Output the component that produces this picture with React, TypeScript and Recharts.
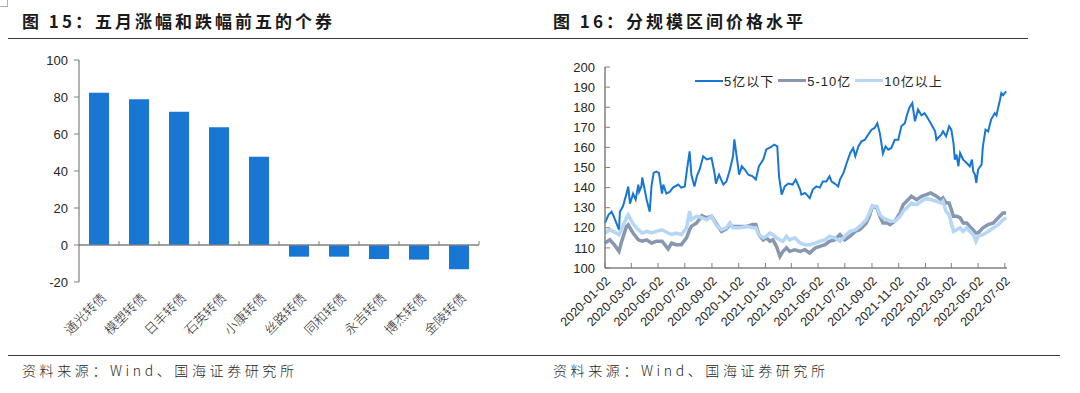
import React from 'react';
import { BarChart, Bar, XAxis, YAxis, ReferenceLine, LineChart, Line, Legend } from 'recharts';

// ---------- Figure 15 data ----------
const bondNames = ['通光转债', '模塑转债', '日丰转债', '石英转债', '小康转债', '丝路转债', '同和转债', '永吉转债', '博杰转债', '金陵转债'];
const bondChanges = [82.3, 78.8, 72.0, 63.6, 47.7, -6.3, -6.3, -7.6, -7.9, -13.1];
const barYTicks = [-20, 0, 20, 40, 60, 80, 100];

// ---------- Figure 16 data ----------
const smallDates = [
  '2020-01-02', '2020-01-10', '2020-01-17', '2020-01-22', '2020-02-03', '2020-02-05', '2020-02-12', '2020-02-20', '2020-02-24', '2020-02-28',
  '2020-03-06', '2020-03-12', '2020-03-18', '2020-03-20', '2020-03-25', '2020-03-27', '2020-04-06', '2020-04-13', '2020-04-17', '2020-04-22',
  '2020-04-28', '2020-05-04', '2020-05-11', '2020-05-14', '2020-05-21', '2020-05-29', '2020-06-05', '2020-06-17', '2020-06-24', '2020-07-02',
  '2020-07-07', '2020-07-13', '2020-07-17', '2020-07-24', '2020-07-30', '2020-08-05', '2020-08-13', '2020-08-21', '2020-09-01', '2020-09-08',
  '2020-09-11', '2020-09-18', '2020-09-28', '2020-10-05', '2020-10-13', '2020-10-20', '2020-10-23', '2020-10-28', '2020-11-03', '2020-11-09',
  '2020-11-16', '2020-11-24', '2020-12-04', '2020-12-11', '2020-12-18', '2020-12-28', '2021-01-04', '2021-01-15', '2021-01-22', '2021-01-29',
  '2021-02-02', '2021-02-08', '2021-02-15', '2021-02-23', '2021-03-05', '2021-03-12', '2021-03-22', '2021-03-25', '2021-04-02', '2021-04-06',
  '2021-04-13', '2021-04-20', '2021-04-28', '2021-05-06', '2021-05-13', '2021-05-21', '2021-05-28', '2021-06-02', '2021-06-09', '2021-06-17',
  '2021-06-21', '2021-06-29', '2021-07-06', '2021-07-14', '2021-07-21', '2021-07-26', '2021-08-02', '2021-08-09', '2021-08-17', '2021-08-24',
  '2021-09-01', '2021-09-08', '2021-09-14', '2021-09-20', '2021-09-27', '2021-10-03', '2021-10-09', '2021-10-16', '2021-10-24', '2021-11-01',
  '2021-11-08', '2021-11-16', '2021-11-20', '2021-11-26', '2021-12-03', '2021-12-09', '2021-12-16', '2021-12-24', '2021-12-31', '2022-01-07',
  '2022-01-14', '2022-01-24', '2022-01-27', '2022-02-07', '2022-02-11', '2022-02-18', '2022-02-25', '2022-03-02', '2022-03-07', '2022-03-10',
  '2022-03-14', '2022-03-18', '2022-03-22', '2022-03-29', '2022-04-06', '2022-04-13', '2022-04-18', '2022-04-21', '2022-04-25', '2022-04-28',
  '2022-05-02', '2022-05-10', '2022-05-13', '2022-05-19', '2022-05-25', '2022-06-01', '2022-06-09', '2022-06-13', '2022-06-21', '2022-06-24',
  '2022-06-28', '2022-07-05',
];
const smallValues = [
  122.5, 126.5, 128, 125.7, 119, 128, 130.7, 137, 140.5, 132,
  137, 134, 141.5, 138, 140.6, 145, 134, 128, 140.6, 147.3,
  148, 147.3, 137, 141.5, 137, 138, 140, 141.5, 140, 140.6,
  149, 158, 146.4, 140.6, 146, 149, 155.6, 154, 154.7, 147,
  142, 146.4, 141.5, 143, 149, 155.6, 164, 156, 146.4, 150.6,
  149, 146.4, 145.6, 144, 150.6, 154, 159, 160.2, 161.4, 160.5,
  145.6, 136.5, 140.6, 142, 141.5, 144, 139, 136.5, 137.3, 136.5,
  134.8, 139, 140.6, 140, 143, 143, 145.6, 143, 142, 140.6,
  144, 147.3, 152, 157, 159.7, 155.6, 160.5, 163, 163.8, 166.3,
  168.8, 169.7, 172, 167, 157, 160.5, 158.9, 159.7, 163.8, 163.8,
  170.5, 172, 175.5, 179.6, 182, 173, 178.8, 176, 177, 174.6,
  172, 168, 163.8, 166.3, 168, 165.5, 170.5, 168.8, 162, 153.9,
  156.4, 150.6, 157.2, 153.9, 152.2, 150.6, 153.9, 148, 146.4, 142.3,
  149, 151.4, 160.5, 168.8, 168, 174, 177, 176, 183.7, 187,
  186, 187.9,
];

const sizeDates = [
  '2020-01-02', '2020-01-13', '2020-01-23', '2020-02-03', '2020-02-10', '2020-02-20', '2020-02-24', '2020-03-06', '2020-03-18', '2020-03-27',
  '2020-04-06', '2020-04-17', '2020-04-28', '2020-05-11', '2020-05-25', '2020-06-02', '2020-06-12', '2020-06-24', '2020-07-06', '2020-07-13',
  '2020-07-17', '2020-07-29', '2020-08-10', '2020-08-21', '2020-09-01', '2020-09-11', '2020-09-24', '2020-10-05', '2020-10-13', '2020-10-20',
  '2020-11-05', '2020-11-20', '2020-12-04', '2020-12-11', '2020-12-18', '2020-12-28', '2021-01-04', '2021-01-12', '2021-01-19', '2021-01-27',
  '2021-02-04', '2021-02-11', '2021-02-19', '2021-02-26', '2021-03-10', '2021-03-22', '2021-04-02', '2021-04-13', '2021-04-26', '2021-05-06',
  '2021-05-18', '2021-05-28', '2021-06-09', '2021-06-21', '2021-07-02', '2021-07-14', '2021-07-26', '2021-08-05', '2021-08-13', '2021-08-20',
  '2021-08-27', '2021-09-03', '2021-09-13', '2021-09-20', '2021-09-27', '2021-10-08', '2021-10-13', '2021-10-24', '2021-11-05', '2021-11-12',
  '2021-11-20', '2021-12-01', '2021-12-13', '2021-12-24', '2022-01-04', '2022-01-14', '2022-01-27', '2022-02-07', '2022-02-11', '2022-02-18',
  '2022-02-25', '2022-03-07', '2022-03-14', '2022-03-22', '2022-03-29', '2022-04-06', '2022-04-13', '2022-04-21', '2022-04-27', '2022-05-02',
  '2022-05-13', '2022-05-25', '2022-06-06', '2022-06-17', '2022-06-28', '2022-07-05',
];
const midValues = [
  112.4, 114, 111.6, 108.3, 114, 120.7, 121.5, 117.4, 114, 113.3,
  114, 112.4, 113.3, 113.3, 109.5, 112.4, 111.6, 111.6, 115, 119,
  120.7, 122.4, 126, 125, 125.7, 122.4, 118.2, 119.5, 121.6, 120.7,
  120.7, 120.7, 121.6, 121.6, 116.6, 114, 115, 113.3, 114, 110.8,
  105.8, 108.3, 110, 108.3, 109.1, 108.3, 109.1, 107.5, 110, 110.8,
  111.6, 113.3, 114, 116.6, 114, 115.8, 118.2, 119, 120.7, 122.4,
  125.7, 130.7, 130, 125.7, 122.4, 122.4, 121.6, 123.2, 127.4, 131.5,
  133.2, 135.7, 134, 135.7, 136.5, 137.3, 135.7, 134, 134.8, 132.3,
  132.3, 125.7, 125.7, 125, 122.4, 122.4, 120.7, 119, 117.4, 117.4,
  120, 121.6, 122.4, 125, 127.4, 127.4,
];
const largeValues = [
  117.4, 119, 118, 116.6, 120, 125, 126.5, 122, 119, 117.4,
  118.2, 117.4, 118.2, 119, 117.4, 116.6, 117.4, 116.6, 120, 128.2,
  124, 125.7, 125, 124, 125.7, 121.6, 119, 120, 122.4, 120,
  120, 120.7, 120, 120, 116.6, 115, 115.8, 117.4, 116.6, 115,
  114, 113.3, 115.8, 114, 115, 112.4, 111.6, 111.6, 112.4, 113.3,
  114, 115.8, 115, 113.3, 115.8, 118.2, 119, 120.7, 122.4, 124,
  127.4, 130.7, 130.7, 126.5, 125, 124, 123.2, 123.2, 125.7, 128.2,
  129.8, 132.3, 131.5, 133.2, 134.8, 134, 133.2, 132.3, 133.2, 128.2,
  126.5, 118.2, 119, 120, 118.2, 120, 118.2, 116.6, 113.3, 115.8,
  116.6, 118.2, 120, 121.6, 124, 125,
];

const dateTickLabels = [
  '2020-01-02', '2020-03-02', '2020-05-02', '2020-07-02', '2020-09-02', '2020-11-02',
  '2021-01-02', '2021-03-02', '2021-05-02', '2021-07-02', '2021-09-02', '2021-11-02',
  '2022-01-02', '2022-03-02', '2022-05-02', '2022-07-02',
];
const dateDomain = ['2020-01-02', '2022-07-07'];
const priceTicks = [100, 110, 120, 130, 140, 150, 160, 170, 180, 190, 200];

const seriesNames = ['5亿以下', '5-10亿', '10亿以上'];
const seriesColors = ['#1777D3', '#8797B0', '#B5D6F6'];
const seriesWidths = [2, 3.5, 3.5];

// ---------- helpers ----------
const DAY = 86400000;
const BASE = Date.parse(dateDomain[0] + 'T00:00:00Z');
const toDay = (s: string) => Math.round((Date.parse(s + 'T00:00:00Z') - BASE) / DAY);

const barData = bondNames.map((n, i) => ({ name: n, v: bondChanges[i] }));
const smallData = smallDates.map((d, i) => ({ t: toDay(d), v: smallValues[i] }));
const midData = sizeDates.map((d, i) => ({ t: toDay(d), v: midValues[i] }));
const largeData = sizeDates.map((d, i) => ({ t: toDay(d), v: largeValues[i] }));
const dateTicks = dateTickLabels.map(toDay);
const tickLabelMap: Record<number, string> = {};
dateTicks.forEach((t, i) => { tickLabelMap[t] = dateTickLabels[i]; });

const SANS = '"Liberation Sans", Arial, "Noto Sans CJK SC", sans-serif';
const CJK = '"Noto Sans CJK SC", sans-serif';
const AXIS = '#7f7f7f';
const TEXT = '#262626';

const BondTick = (props: any) => {
  const { x, y, payload } = props;
  const ax = x + 4;
  const ay = y + 5;
  return (
    <text x={ax} y={ay} transform={`rotate(-45 ${ax} ${ay})`} textAnchor="end" dominantBaseline="central"
      fontSize={13} fill={TEXT} fontFamily={CJK} fontWeight={300}>
      {payload.value}
    </text>
  );
};

const DateTick = (props: any) => {
  const { x, y, payload } = props;
  const ax = x + 3;
  const ay = y + 4;
  return (
    <text x={ax} y={ay} transform={`rotate(-45 ${ax} ${ay})`} textAnchor="end" dominantBaseline="central"
      fontSize={12.5} fill={TEXT} fontFamily={SANS}>
      {tickLabelMap[payload.value] ?? ''}
    </text>
  );
};

const ZeroAxis = (props: any) => {
  const x1 = Number(props.x1);
  const x2 = Number(props.x2);
  const y = Number(props.y1);
  const n = bondNames.length;
  const marks = [];
  for (let i = 1; i <= n; i++) {
    const x = x1 + ((x2 - x1) * i) / n;
    marks.push(<line key={i} x1={x} x2={x} y1={y} y2={y - 4} stroke={AXIS} strokeWidth={1} />);
  }
  return (
    <g>
      <path d={`M${x1},${y}L${x2},${y}`} stroke={AXIS} strokeWidth={1.3} fill="none" />
      {marks}
    </g>
  );
};

const LegendContent = (props: any) => {
  const payload = [...(props.payload || [])].sort(
    (a: any, b: any) => seriesNames.indexOf(a.value) - seriesNames.indexOf(b.value),
  );
  return (
    <div style={{ display: 'flex', alignItems: 'center', fontFamily: SANS, fontSize: 13, color: TEXT, whiteSpace: 'nowrap' }}>
      {payload.map((p: any, i: number) => {
        const idx = seriesNames.indexOf(p.value);
        return (
          <div key={i} style={{ display: 'flex', alignItems: 'center', marginRight: 4 }}>
            <div style={{ width: 28, height: seriesWidths[idx] ?? 2, background: p.color }} />
            <span style={{ marginLeft: 1, letterSpacing: 1 }}>{p.value}</span>
          </div>
        );
      })}
    </div>
  );
};

export default function App() {
  return (
    <div style={{ position: 'absolute', left: 0, top: 0, width: 1080, height: 393, background: '#fff', overflow: 'hidden' }}>
      {/* corner mark */}
      <div style={{ position: 'absolute', left: -2, top: -2, width: 8, height: 7, border: '1px solid #b0b0b0' }} />

      {/* titles */}
      <div style={{ position: 'absolute', left: 22, top: 9, fontFamily: CJK, fontWeight: 700, fontSize: 17, letterSpacing: 3, color: '#1a1a1a', whiteSpace: 'nowrap', lineHeight: '24px' }}>
        图 15：五月涨幅和跌幅前五的个券
      </div>
      <div style={{ position: 'absolute', left: 553, top: 9, fontFamily: CJK, fontWeight: 700, fontSize: 17, letterSpacing: 3, color: '#1a1a1a', whiteSpace: 'nowrap', lineHeight: '24px' }}>
        图 16：分规模区间价格水平
      </div>
      <div style={{ position: 'absolute', left: 8, top: 38, width: 1020, height: 0, borderTop: '1.5px solid #3a3a3a' }} />

      {/* Figure 15 */}
      <div style={{ position: 'absolute', left: 0, top: 0 }}>
        <BarChart width={540} height={393} data={barData} margin={{ top: 60, right: 61, bottom: 81, left: 19 }}>
          <XAxis dataKey="name" axisLine={false} tickLine={false} interval={0} height={30} tick={<BondTick />} />
          <YAxis domain={[-20, 100]} ticks={barYTicks} width={60} tickSize={5} tickMargin={6}
            axisLine={{ stroke: AXIS, strokeWidth: 1.2 }} tickLine={{ stroke: AXIS }}
            tick={{ fontSize: 13, fill: TEXT, fontFamily: SANS }} interval={0} />
          <Bar dataKey="v" fill="#1777D3" barSize={20} isAnimationActive={false} />
          <ReferenceLine y={0} stroke={AXIS} shape={(p: any) => <ZeroAxis {...p} />} />
        </BarChart>
      </div>

      {/* Figure 16 */}
      <div style={{ position: 'absolute', left: 540, top: 0 }}>
        <LineChart width={540} height={393} margin={{ top: 67, right: 73, bottom: 95, left: 5 }}>
          <XAxis dataKey="t" type="number" domain={[toDay(dateDomain[0]), toDay(dateDomain[1])]} ticks={dateTicks}
            interval={0} height={30} tickSize={-5} tickMargin={12}
            axisLine={{ stroke: AXIS, strokeWidth: 1.5 }} tickLine={{ stroke: AXIS }} tick={<DateTick />} allowDuplicatedCategory={false} />
          <YAxis domain={[100, 200]} ticks={priceTicks} width={60} tickSize={-5} tickMargin={15} interval={0}
            axisLine={{ stroke: AXIS, strokeWidth: 1.5 }} tickLine={{ stroke: AXIS }}
            tick={{ fontSize: 13, fill: TEXT, fontFamily: SANS }} />
          <Legend layout="horizontal" verticalAlign="middle" align="center"
            wrapperStyle={{ position: 'absolute', top: 71, left: 155, width: 'auto', height: 'auto' }}
            content={<LegendContent />} />
          <Line data={smallData} dataKey="v" name={seriesNames[0]} stroke={seriesColors[0]} strokeWidth={seriesWidths[0]} dot={false} isAnimationActive={false} type="linear" />
          <Line data={midData} dataKey="v" name={seriesNames[1]} stroke={seriesColors[1]} strokeWidth={seriesWidths[1]} dot={false} isAnimationActive={false} type="linear" />
          <Line data={largeData} dataKey="v" name={seriesNames[2]} stroke={seriesColors[2]} strokeWidth={seriesWidths[2]} dot={false} isAnimationActive={false} type="linear" />
        </LineChart>
      </div>

      {/* footer */}
      <div style={{ position: 'absolute', left: 8, top: 355, width: 1052, height: 0, borderTop: '1.5px solid #3a3a3a' }} />
      <div style={{ position: 'absolute', left: 22, top: 360, fontFamily: CJK, fontWeight: 300, fontSize: 14, letterSpacing: 3.6, color: TEXT, whiteSpace: 'nowrap', lineHeight: '20px' }}>
        资料来源：Wind、国海证券研究所
      </div>
      <div style={{ position: 'absolute', left: 553, top: 360, fontFamily: CJK, fontWeight: 300, fontSize: 14, letterSpacing: 3.6, color: TEXT, whiteSpace: 'nowrap', lineHeight: '20px' }}>
        资料来源：Wind、国海证券研究所
      </div>
    </div>
  );
}
